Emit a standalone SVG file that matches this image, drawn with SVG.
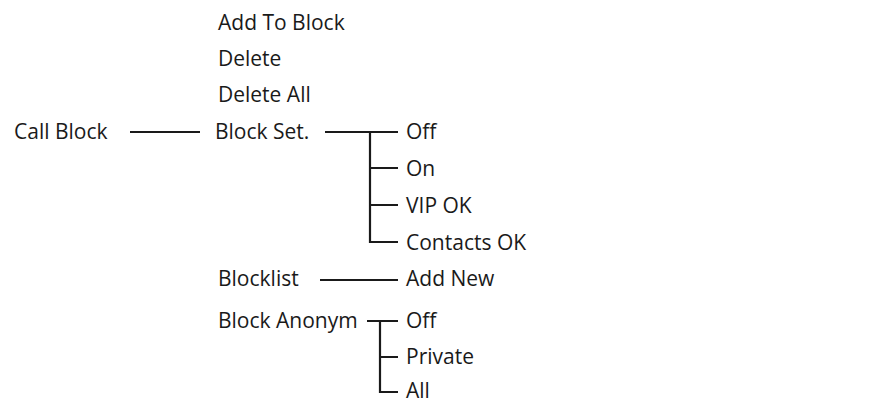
<svg xmlns="http://www.w3.org/2000/svg" width="876" height="404" viewBox="0 0 876 404">
<style>
text{font-family:"Open Sans","Liberation Sans",sans-serif;font-size:21px;fill:#1a1a1a}
.c{stroke:#1a1a1a;stroke-width:2.2;fill:none}
</style>
<rect width="876" height="404" fill="#fff"/>
<g id="connectors" class="c">
<path d="M130 132H200"/>
<path d="M325 132H398M370 132V242H398M370 168H398M370 205H398"/>
<path d="M320 280H398"/>
<path d="M367 321H398M380 321V392H398M380 357H398"/>
</g>
<g id="n-callblock"><text x="14" y="139">Call Block</text></g>
<g id="n-addtoblock"><text x="218" y="30">Add To Block</text></g>
<g id="n-delete"><text x="218" y="66">Delete</text></g>
<g id="n-deleteall"><text x="218" y="102">Delete All</text></g>
<g id="n-blockset"><text x="215" y="139">Block Set.</text></g>
<g id="n-off1"><text x="406" y="139">Off</text></g>
<g id="n-on"><text x="406" y="176">On</text></g>
<g id="n-vipok"><text x="406" y="213">VIP OK</text></g>
<g id="n-contactsok"><text x="406" y="250">Contacts OK</text></g>
<g id="n-blocklist"><text x="218" y="286">Blocklist</text></g>
<g id="n-addnew"><text x="406" y="286">Add New</text></g>
<g id="n-blockanonym"><text x="218" y="328">Block Anonym</text></g>
<g id="n-off2"><text x="406" y="328">Off</text></g>
<g id="n-private"><text x="406" y="364">Private</text></g>
<g id="n-all"><text x="406" y="398">All</text></g>
</svg>
